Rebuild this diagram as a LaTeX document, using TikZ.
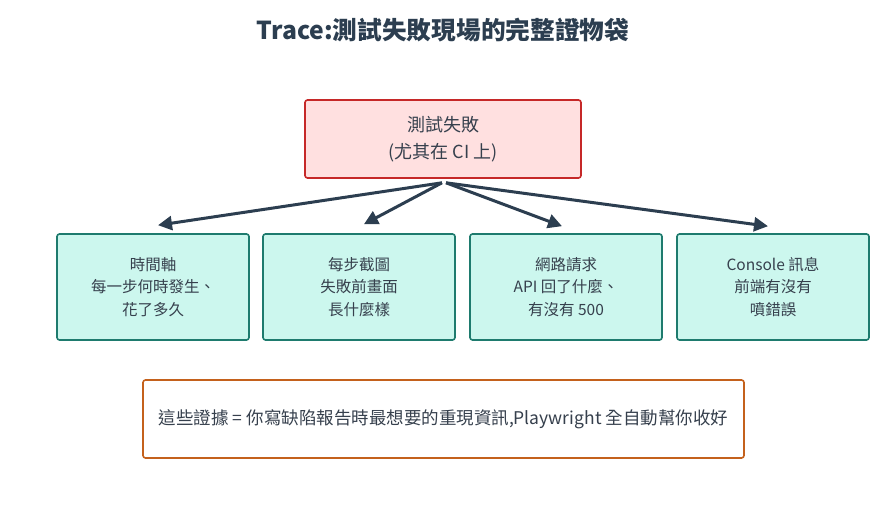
\documentclass[tikz,border=0pt]{standalone}
\usepackage{fontspec}
\setmainfont{Noto Sans CJK TC}
\usetikzlibrary{arrows.meta}
\definecolor{ink}{HTML}{2C3E50}
\definecolor{txt}{HTML}{36404D}
\definecolor{pinkfill}{HTML}{FFE0E0}
\definecolor{pinkline}{HTML}{C62828}
\definecolor{mintfill}{HTML}{CCF7EE}
\definecolor{mintline}{HTML}{1E7B6E}
\definecolor{orangeline}{HTML}{C4611C}
\tikzset{
  box/.style={draw, line width=1.6pt, rounded corners=2.5pt, align=center, text=txt,
    inner sep=0pt},
  topbox/.style={box, fill=pinkfill, draw=pinkline, minimum width=276pt, minimum height=78pt,
    font=\fontsize{18}{27}\selectfont},
  leafbox/.style={box, fill=mintfill, draw=mintline, minimum width=192pt, minimum height=106pt,
    font=\fontsize{15.5}{22.5}\selectfont},
  notebox/.style={box, fill=white, draw=orangeline, minimum width=601pt, minimum height=78pt,
    font=\fontsize{17.5}{23}\selectfont},
  arr/.style={draw=ink, line width=3pt, -{Triangle[length=14pt,width=14pt]}}
}
\begin{document}
\begin{tikzpicture}[x=1pt,y=-1pt]
\useasboundingbox (0,0) rectangle (889,510);
\node[font=\fontsize{24.7}{28}\selectfont\bfseries, text=ink] (title) at (443,30) {Trace:測試失敗現場的完整證物袋};
\node[topbox] (fail) at (443,139) {測試失敗\\(尤其在 CI 上)};
\node[leafbox] (b1) at (153,287) {時間軸\\每一步何時發生、\\花了多久};
\node[leafbox] (b2) at (359,287) {每步截圖\\失敗前畫面\\長什麼樣};
\node[leafbox] (b3) at (566,287) {網路請求\\API 回了什麼、\\有沒有 500};
\node[leafbox] (b4) at (773,287) {Console 訊息\\前端有沒有\\噴錯誤};
\node[notebox] (note) at (443.5,419) {這些證據 = 你寫缺陷報告時最想要的重現資訊,Playwright 全自動幫你收好};
\coordinate (sl) at ([xshift=-1pt,yshift=-4pt]fail.south);
\coordinate (sr) at ([xshift=3pt,yshift=-4pt]fail.south);
\draw[arr] (sl) -- ([xshift=5pt,yshift=8pt]b1.north);
\draw[arr] (sl) -- ([xshift=5pt,yshift=9pt]b2.north);
\draw[arr] (sr) -- ([xshift=-4pt,yshift=7pt]b3.north);
\draw[arr] (sr) -- ([xshift=-5pt,yshift=7pt]b4.north);
\end{tikzpicture}
\end{document}
